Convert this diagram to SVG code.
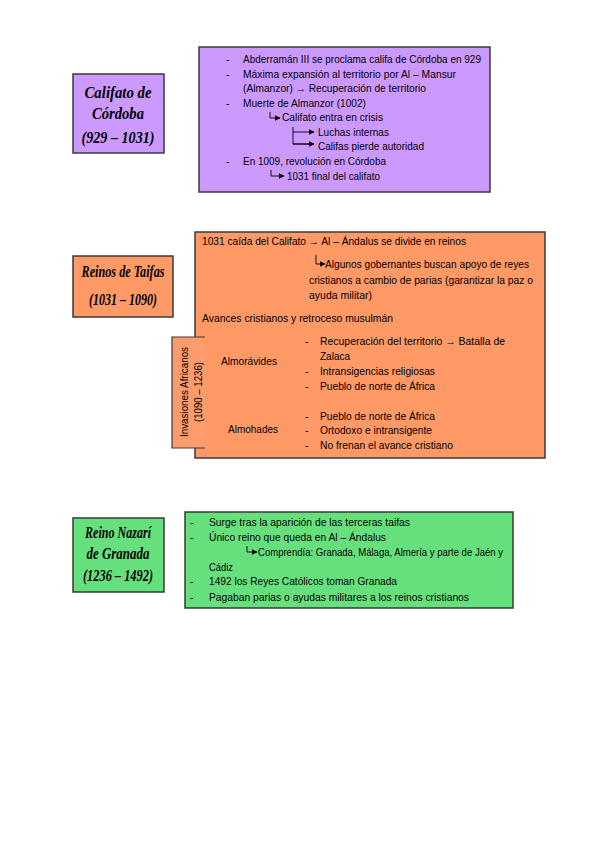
<svg xmlns="http://www.w3.org/2000/svg" width="599" height="848" viewBox="0 0 599 848">
<defs>
<marker id="ah" viewBox="0 0 10 10" refX="9" refY="5" markerWidth="6" markerHeight="6" markerUnits="userSpaceOnUse" orient="auto"><path d="M0,0 L10,5 L0,10 Z" fill="#000"/></marker>
<style>
.box{stroke:#3a3a3a;stroke-width:1.5}
.purple{fill:#cc99ff}
.orange{fill:#ff9966}
.green{fill:#66e07c}
.t{font-family:"Liberation Sans",Arial,sans-serif;font-size:10.5px;fill:#000}
.title{font-family:"Liberation Serif","DejaVu Serif",serif;font-style:italic;font-weight:bold;font-size:17px;fill:#000;text-anchor:middle}
.c{fill:none;stroke:#000;stroke-width:0.9}
</style>
</defs>
<rect width="599" height="848" fill="#fff"/>

<g id="califato-title">
<rect class="box purple" x="73" y="74" width="91" height="79"/>
<text class="title" x="118" y="98" textLength="67" lengthAdjust="spacingAndGlyphs">Califato de</text>
<text class="title" x="118" y="119" textLength="52" lengthAdjust="spacingAndGlyphs">Córdoba</text>
<text class="title" x="118" y="143" textLength="73" lengthAdjust="spacingAndGlyphs">(929 – 1031)</text>
</g>

<g id="califato-content">
<rect class="box purple" x="199" y="47" width="291" height="145"/>
<text class="t" x="226" y="63">-</text><text class="t" x="243" y="63" textLength="238" lengthAdjust="spacingAndGlyphs">Abderramán III se proclama califa de Córdoba en 929</text>
<text class="t" x="226" y="78">-</text><text class="t" x="243" y="78" textLength="213" lengthAdjust="spacingAndGlyphs">Máxima expansión al territorio por Al – Mansur</text>
<text class="t" x="243" y="92" textLength="183" lengthAdjust="spacingAndGlyphs">(Almanzor) → Recuperación de territorio</text>
<text class="t" x="226" y="107">-</text><text class="t" x="243" y="107" textLength="123" lengthAdjust="spacingAndGlyphs">Muerte de Almanzor (1002)</text>
<text class="t" x="282" y="121" textLength="101" lengthAdjust="spacingAndGlyphs">Califato entra en crisis</text>
<text class="t" x="318" y="136" textLength="71" lengthAdjust="spacingAndGlyphs">Luchas internas</text>
<text class="t" x="318" y="150" textLength="106" lengthAdjust="spacingAndGlyphs">Califas pierde autoridad</text>
<text class="t" x="226" y="165">-</text><text class="t" x="243" y="165" textLength="143" lengthAdjust="spacingAndGlyphs">En 1009, revolución en Córdoba</text>
<text class="t" x="287" y="180" textLength="93" lengthAdjust="spacingAndGlyphs">1031 final del califato</text>
</g>

<g id="taifas-title">
<rect class="box orange" x="73" y="256" width="100" height="61"/>
<text class="title" x="123" y="277" textLength="83" lengthAdjust="spacingAndGlyphs">Reinos de Taifas</text>
<text class="title" x="123" y="305" textLength="68" lengthAdjust="spacingAndGlyphs">(1031 – 1090)</text>
</g>

<g id="taifas-content">
<rect class="box orange" x="195" y="232" width="350" height="226"/>
<text class="t" x="202" y="245" textLength="264" lengthAdjust="spacingAndGlyphs">1031 caída del Califato → Al – Ándalus se divide en reinos</text>
<text class="t" x="325" y="268" textLength="204" lengthAdjust="spacingAndGlyphs">Algunos gobernantes buscan apoyo de reyes</text>
<text class="t" x="309" y="284" textLength="224" lengthAdjust="spacingAndGlyphs">cristianos a cambio de parias (garantizar la paz o</text>
<text class="t" x="309" y="299" textLength="63" lengthAdjust="spacingAndGlyphs">ayuda militar)</text>
<text class="t" x="202" y="322" textLength="191" lengthAdjust="spacingAndGlyphs">Avances cristianos y retroceso musulmán</text>
<text class="t" x="221" y="365" textLength="56" lengthAdjust="spacingAndGlyphs">Almorávides</text>
<text class="t" x="228" y="433" textLength="50" lengthAdjust="spacingAndGlyphs">Almohades</text>
<text class="t" x="305" y="345">-</text><text class="t" x="320" y="345" textLength="185" lengthAdjust="spacingAndGlyphs">Recuperación del territorio → Batalla de</text>
<text class="t" x="320" y="360" textLength="30" lengthAdjust="spacingAndGlyphs">Zalaca</text>
<text class="t" x="305" y="375">-</text><text class="t" x="320" y="375" textLength="115" lengthAdjust="spacingAndGlyphs">Intransigencias religiosas</text>
<text class="t" x="305" y="390">-</text><text class="t" x="320" y="390" textLength="115" lengthAdjust="spacingAndGlyphs">Pueblo de norte de África</text>
<text class="t" x="305" y="420">-</text><text class="t" x="320" y="420" textLength="115" lengthAdjust="spacingAndGlyphs">Pueblo de norte de África</text>
<text class="t" x="305" y="434">-</text><text class="t" x="320" y="434" textLength="112" lengthAdjust="spacingAndGlyphs">Ortodoxo e intransigente</text>
<text class="t" x="305" y="449">-</text><text class="t" x="320" y="449" textLength="133" lengthAdjust="spacingAndGlyphs">No frenan el avance cristiano</text>
</g>

<g id="invasiones-tab">
<rect x="172" y="337" width="33" height="111" fill="#fc9c6c"/>
<path d="M205,337 H172 V448 H205" fill="none" stroke="#3a3a3a" stroke-width="1.2"/>
<text class="t" transform="translate(188,392) rotate(-90)" text-anchor="middle" textLength="90" lengthAdjust="spacingAndGlyphs">Invasiones Africanos</text>
<text class="t" transform="translate(202,392) rotate(-90)" text-anchor="middle" textLength="60" lengthAdjust="spacingAndGlyphs">(1090 – 1236)</text>
</g>

<g id="nazari-title">
<rect class="box green" x="73" y="518" width="91" height="74"/>
<text class="title" x="118" y="538" textLength="66" lengthAdjust="spacingAndGlyphs">Reino Nazarí</text>
<text class="title" x="118" y="559" textLength="63" lengthAdjust="spacingAndGlyphs">de Granada</text>
<text class="title" x="118" y="581" textLength="70" lengthAdjust="spacingAndGlyphs">(1236 – 1492)</text>
</g>

<g id="nazari-content">
<rect class="box green" x="185" y="512" width="328" height="96"/>
<text class="t" x="190" y="526">-</text><text class="t" x="209" y="526" textLength="201" lengthAdjust="spacingAndGlyphs">Surge tras la aparición de las terceras taifas</text>
<text class="t" x="190" y="541">-</text><text class="t" x="209" y="541" textLength="177" lengthAdjust="spacingAndGlyphs">Único reino que queda en Al – Ándalus</text>
<text class="t" x="258" y="556" textLength="245" lengthAdjust="spacingAndGlyphs">Comprendía: Granada, Málaga, Almería y parte de Jaén y</text>
<text class="t" x="209" y="571" textLength="24" lengthAdjust="spacingAndGlyphs">Cádiz</text>
<text class="t" x="190" y="585">-</text><text class="t" x="209" y="585" textLength="188" lengthAdjust="spacingAndGlyphs">1492 los Reyes Católicos toman Granada</text>
<text class="t" x="190" y="601">-</text><text class="t" x="209" y="601" textLength="260" lengthAdjust="spacingAndGlyphs">Pagaban parias o ayudas militares a los reinos cristianos</text>
</g>

<g id="connectors">
<path class="c" d="M270,112 V118 H280" marker-end="url(#ah)"/>
<path class="c" d="M293,127 V144 H314" />
<path class="c" d="M293,132 H314" marker-end="url(#ah)"/>
<path class="c" d="M293,144 H314" marker-end="url(#ah)"/>
<path class="c" d="M271,170 V176 H284" marker-end="url(#ah)"/>
<path class="c" d="M316,255 V264 H325" marker-end="url(#ah)"/>
<path class="c" d="M247,546 V552 H257" marker-end="url(#ah)"/>
</g>
</svg>
